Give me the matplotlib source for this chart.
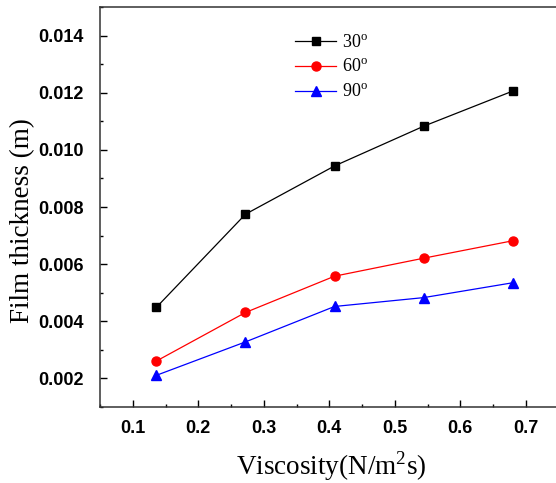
import matplotlib.pyplot as plt
from matplotlib.ticker import MultipleLocator

# data
viscosity = [0.136, 0.272, 0.408, 0.544, 0.68]
thick_30 = [0.00449, 0.00775, 0.00944, 0.01083, 0.01206]
thick_60 = [0.00261, 0.00431, 0.00558, 0.00621, 0.00682]
thick_90 = [0.00211, 0.00328, 0.00452, 0.00483, 0.00535]
labels = ['30$^{\\mathrm{o}}$', '60$^{\\mathrm{o}}$', '90$^{\\mathrm{o}}$']

plt.rcParams['mathtext.fontset'] = 'custom'
plt.rcParams['mathtext.rm'] = 'Liberation Serif'

fig = plt.figure(figsize=(5.56, 4.83), dpi=100)
# right edge sits just outside the picture, like the reference crop
ax = fig.add_axes([0.18, 0.1573, 0.8246, 0.828])

ax.plot(viscosity, thick_30, color='black', lw=0.9, marker='s', ms=5.5, label=labels[0])
ax.plot(viscosity, thick_60, color='red', lw=0.9, marker='o', ms=6.5, label=labels[1])
ax.plot(viscosity, thick_90, color='blue', lw=0.9, marker='^', ms=7, label=labels[2])

ax.set_xlim(0.05, 0.75)
ax.set_ylim(0.001, 0.015)
ax.xaxis.set_minor_locator(MultipleLocator(0.05))
ax.yaxis.set_minor_locator(MultipleLocator(0.001))
ax.set_xticks([0.1, 0.2, 0.3, 0.4, 0.5, 0.6, 0.7])
ax.set_yticks([0.002, 0.004, 0.006, 0.008, 0.010, 0.012, 0.014])
ax.set_yticklabels(['0.002', '0.004', '0.006', '0.008', '0.010', '0.012', '0.014'])

ax.tick_params(which='both', direction='in', top=False, right=False)
ax.tick_params(which='major', length=5, width=1)
ax.tick_params(which='minor', length=2.5, width=1)
for lab in ax.get_xticklabels() + ax.get_yticklabels():
    lab.set_fontfamily('Liberation Sans')
    lab.set_fontweight('bold')
    lab.set_fontsize(13)
ax.tick_params(axis='x', pad=9)
ax.tick_params(axis='y', pad=12)

for sp in ax.spines.values():
    sp.set_linewidth(1.1)
    sp.set_color('#333333')

ax.set_xlabel('Viscosity(N/m$^{2}$s)', family='Liberation Serif', fontsize=19.5)
ax.set_ylabel('Film thickness (m)', family='Liberation Serif', fontsize=19.5)
ax.xaxis.set_label_coords(0.505, -0.105)
ax.yaxis.set_label_coords(-0.142, 0.465)

leg = ax.legend(loc='upper left', bbox_to_anchor=(0.425, 0.932), frameon=False,
                prop={'family': 'Liberation Serif', 'size': 13},
                handlelength=2.3, handletextpad=0.3, labelspacing=0.42,
                borderpad=0, borderaxespad=0)

fig.savefig('out.png', dpi=100)
